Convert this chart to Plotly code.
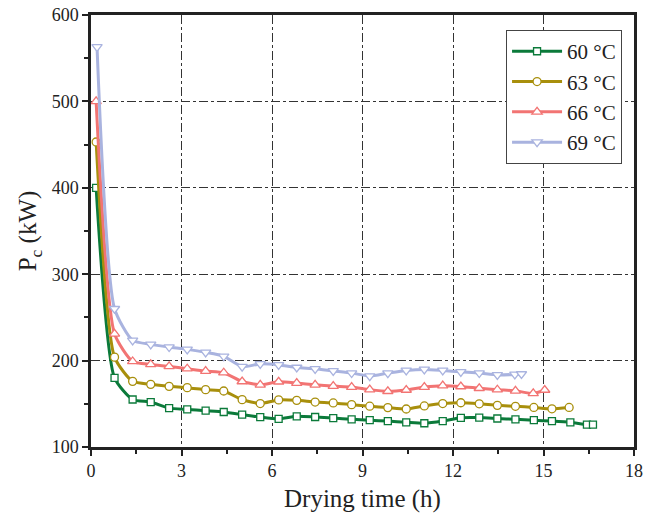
import plotly.graph_objects as go

# drying time (h) for each series
t_60 = [0.17, 0.78, 1.38, 1.98, 2.59, 3.19, 3.80, 4.40, 5.01, 5.61, 6.22, 6.82, 7.43, 8.03,
        8.64, 9.24, 9.84, 10.45, 11.05, 11.66, 12.26, 12.87, 13.47, 14.07, 14.68, 15.28,
        15.89, 16.44, 16.64]
t_63 = [0.17, 0.78, 1.38, 1.98, 2.59, 3.19, 3.80, 4.40, 5.01, 5.61, 6.22, 6.82, 7.43, 8.03,
        8.64, 9.24, 9.84, 10.45, 11.05, 11.66, 12.26, 12.87, 13.47, 14.07, 14.68, 15.28, 15.85]
t_66 = [0.17, 0.78, 1.38, 1.98, 2.59, 3.19, 3.80, 4.40, 5.01, 5.61, 6.22, 6.82, 7.43, 8.03,
        8.64, 9.24, 9.84, 10.45, 11.05, 11.66, 12.26, 12.87, 13.47, 14.07, 14.66, 15.04]
t_69 = [0.20, 0.78, 1.38, 1.98, 2.59, 3.19, 3.80, 4.40, 5.01, 5.61, 6.22, 6.82, 7.43, 8.03,
        8.64, 9.24, 9.84, 10.45, 11.05, 11.66, 12.26, 12.87, 13.47, 14.05, 14.27]

# Pc (kW)
p_60 = [400, 180, 155, 152, 145, 143.5, 142, 140.5, 137.5, 134.5, 132.5, 135.5, 134.7, 133.5,
        132, 131, 130, 128.6, 127.5, 130, 133.8, 134, 133, 132, 131, 130, 128.6, 126, 126]
p_63 = [453, 204, 176, 172.5, 170.2, 168.7, 166.4, 164.8, 154.8, 150.3, 154.5, 154, 152, 151,
        149, 147.2, 145.6, 144, 147.5, 150.3, 151.2, 150, 148.2, 147.1, 145.8, 144.2, 145.8]
p_66 = [500, 231, 199, 195.6, 193.3, 190.6, 187.9, 186, 175.8, 172, 175.5, 174, 172, 170.5,
        169.4, 166.4, 164.5, 166, 169.4, 171, 170, 168, 166.3, 165, 162, 166]
p_69 = [563, 260, 223.4, 218.8, 215.7, 213, 209.5, 205, 193, 196.2, 195, 192, 190.5, 188,
        185.6, 182.1, 185.5, 188.6, 189.8, 188.6, 187, 185.6, 183.5, 184, 184.5]

series = [
    ("60 \u00b0C", t_60, p_60, "#0b7a3a", "square", 7),
    ("63 \u00b0C", t_63, p_63, "#a88f0c", "circle", 8),
    ("66 \u00b0C", t_66, p_66, "#f27473", "triangle-up", 9),
    ("69 \u00b0C", t_69, p_69, "#a9b3df", "triangle-down", 9),
]

FONT = "'Liberation Serif'"

fig = go.Figure()
for name, xs, ys, color, sym, size in series:
    fig.add_trace(go.Scatter(
        x=xs, y=ys, name=name,
        mode="lines+markers",
        line=dict(color=color, width=3, shape="spline", smoothing=0.6),
        marker=dict(symbol=sym, size=size, color="white",
                    line=dict(color=color, width=1.3)),
    ))

axis_common = dict(
    showline=True, linewidth=2.5, linecolor="#222", mirror=True,
    ticks="outside", ticklen=6, tickwidth=2, tickcolor="#222",
    showgrid=True, gridcolor="#333", gridwidth=1, griddash="dashdot",
    zeroline=False, automargin=False, ticklabeloverflow="allow",
    tickfont=dict(family=FONT, size=18, color="#222"),
    title_font=dict(family=FONT, size=25, color="#222"),
)

fig.update_xaxes(
    range=[0, 18], tickvals=[0, 3, 6, 9, 12, 15, 18],
    minor=dict(tickvals=[1.5, 4.5, 7.5, 10.5, 13.5, 16.5], ticks="outside",
               ticklen=4, tickwidth=2, tickcolor="#222", showgrid=False),
    title_text="Drying time (h)", title_standoff=10,
    **axis_common,
)
fig.update_yaxes(
    range=[100, 600], tickvals=[100, 200, 300, 400, 500, 600],
    minor=dict(tickvals=[150, 250, 350, 450, 550], ticks="outside",
               ticklen=4, tickwidth=2, tickcolor="#222", showgrid=False),
    title_text="P<sub>c</sub> (kW)", title_standoff=8,
    **axis_common,
)

fig.update_layout(
    width=660, height=517,
    margin=dict(l=91, r=26, t=15, b=70),
    paper_bgcolor="white", plot_bgcolor="white",
    showlegend=True,
    legend=dict(
        x=0.978, y=0.965, xanchor="right", yanchor="top",
        bgcolor="white", bordercolor="#444", borderwidth=1,
        font=dict(family=FONT, size=21, color="#222"),
        tracegroupgap=0, itemwidth=50,
    ),
)

# drop the default page margin so the figure fills the window exactly
fig.write_html("out.html", config={"displayModeBar": False},
               post_script="document.body.style.margin='0';")
